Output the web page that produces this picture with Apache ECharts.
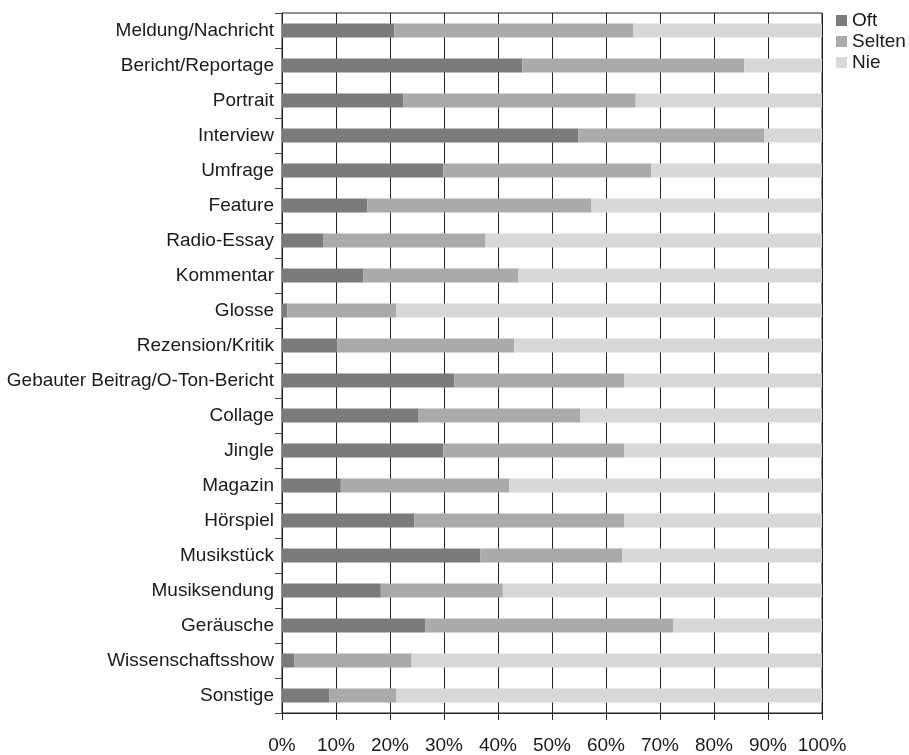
<!DOCTYPE html>
<html>
<head>
<meta charset="utf-8">
<style>
  html, body { margin: 0; padding: 0; background: #fff; }
  #chart { width: 909px; height: 755px; }
</style>
<script src="https://cdn.jsdelivr.net/npm/echarts@6/dist/echarts.min.js"></script>
</head>
<body>
<div id="chart"></div>
<script>
// categories, top to bottom
const categories = [
  "Meldung/Nachricht", "Bericht/Reportage", "Portrait", "Interview", "Umfrage",
  "Feature", "Radio-Essay", "Kommentar", "Glosse", "Rezension/Kritik",
  "Gebauter Beitrag/O-Ton-Bericht", "Collage", "Jingle", "Magazin", "Hörspiel",
  "Musikstück", "Musiksendung", "Geräusche", "Wissenschaftsshow", "Sonstige"
];
// shares in percent
const oft = [20.8, 44.5, 22.5, 54.9, 29.9, 15.8, 7.7, 15.1, 1.0, 10.2,
             31.9, 25.3, 29.9, 10.9, 24.5, 36.7, 18.3, 26.5, 2.3, 8.8];
const selten = [44.3, 41.1, 43.0, 34.4, 38.5, 41.5, 30.0, 28.7, 20.2, 32.8,
                31.5, 29.9, 33.5, 31.2, 38.9, 26.3, 22.6, 46.0, 21.7, 12.4];
const nie = [34.9, 14.4, 34.5, 10.7, 31.6, 42.7, 62.3, 56.2, 78.8, 57.0,
             36.6, 44.8, 36.6, 57.9, 36.6, 37.0, 59.1, 27.5, 76.0, 78.8];
const seriesNames = ["Oft", "Selten", "Nie"];
const colors = ["#7b7b7b", "#aaaaaa", "#d7d8d7"];

const font = "'Liberation Sans', Arial, sans-serif";
const ink = "#1a1a1a";

let chart = echarts.init(document.getElementById("chart"));

function makeSeries(name, data, color) {
  return {
    name: name,
    type: "bar",
    stack: "total",
    barWidth: 14,
    data: data,
    itemStyle: { color: color },
    emphasis: { disabled: true }
  };
}

chart.setOption({
  animation: false,
  backgroundColor: "#fff",
  color: colors,
  textStyle: { fontFamily: font },
  grid: {
    left: 282,
    right: 87,
    top: 13,
    bottom: 42,
    show: true,
    borderColor: "#222",
    borderWidth: 1
  },
  legend: {
    orient: "vertical",
    left: 831,
    top: 6,
    icon: "rect",
    itemWidth: 11,
    itemHeight: 11,
    itemGap: 2,
    data: seriesNames,
    textStyle: { fontSize: 19, color: ink, fontFamily: font, lineHeight: 19 }
  },
  xAxis: {
    type: "value",
    min: 0,
    max: 100,
    interval: 10,
    axisLine: { show: true, lineStyle: { color: "#222", width: 1 } },
    axisTick: { show: true, length: 7, lineStyle: { color: "#222" } },
    splitLine: { show: true, lineStyle: { color: "#222", width: 1 } },
    axisLabel: {
      formatter: "{value}%",
      fontSize: 19,
      color: ink,
      fontFamily: font,
      margin: 23
    }
  },
  yAxis: {
    type: "category",
    inverse: true,
    data: categories,
    axisLine: { show: true, lineStyle: { color: "#222", width: 1 } },
    axisTick: { show: true, length: 7, lineStyle: { color: "#444" } },
    splitLine: { show: false },
    axisLabel: {
      fontSize: 19,
      color: ink,
      fontFamily: font,
      margin: 8
    }
  },
  series: [
    makeSeries(seriesNames[0], oft, colors[0]),
    makeSeries(seriesNames[1], selten, colors[1]),
    makeSeries(seriesNames[2], nie, colors[2])
  ]
});
</script>
</body>
</html>
